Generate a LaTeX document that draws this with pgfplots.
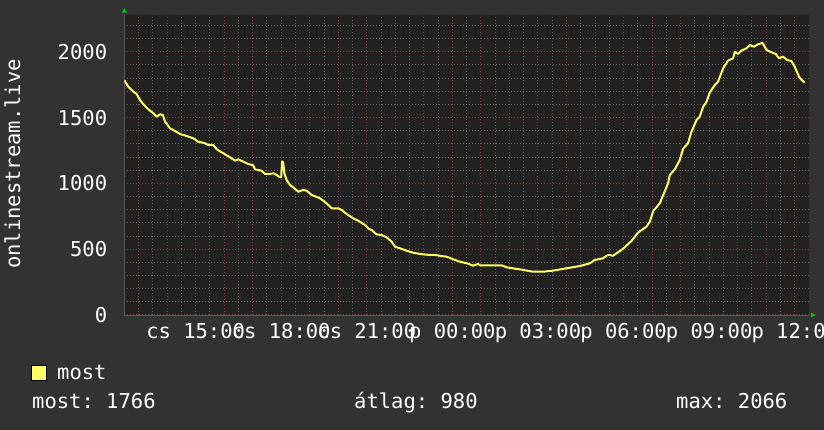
\documentclass[border=0pt]{standalone}
\usepackage{fontspec}
\setmainfont{DejaVu Sans Mono}
\usepackage{pgfplots}
\pgfplotsset{compat=1.18}
\frenchspacing

\definecolor{outerbg}{RGB}{50,50,50}
\definecolor{plotbg}{RGB}{33,33,33}
\definecolor{gridminor}{RGB}{95,95,95}
\definecolor{gridmajor}{RGB}{128,60,60}
\definecolor{linecol}{RGB}{255,255,102}
\definecolor{arrowcol}{RGB}{0,204,0}

\newcommand\fs{\fontsize{20.5}{24}\selectfont}

\begin{document}
\begin{tikzpicture}[x=1pt,y=1pt]
\path[use as bounding box] (0,0) rectangle (824,430);
\fill[outerbg] (0,0) rectangle (824,430);
\begin{axis}[
  at={(124.3pt,115pt)}, anchor=south west,
  scale only axis, width=684.7pt, height=300pt,
  xmin=12.5, xmax=36.5, ymin=0, ymax=2280,
  axis background/.style={fill=plotbg},
  axis x line*=bottom, axis y line*=left,
  axis line style={draw=gray!70!black, line width=0.8pt, -},
  xtick={13,...,36},
  minor xtick={13.5,14.5,...,35.5},
  xticklabels={{},{},cs 15:00,{},{},cs 18:00,{},{},cs 21:00,{},{},p 00:00,{},{},p 03:00,{},{},p 06:00,{},{},p 09:00,{},{},p 12:00},
  ytick={0,500,1000,1500,2000},
  yticklabels={0,500,1000,1500,2000},
  minor ytick={100,200,300,400,600,700,800,900,1100,1200,1300,1400,1600,1700,1800,1900,2100,2200},
  grid=both,
  major grid style={gridmajor, line width=1pt, dash pattern=on 1pt off 2pt},
  minor grid style={gridminor, line width=1pt, dash pattern=on 1pt off 2pt},
  major tick length=0pt, minor tick length=0pt,
  tick label style={font=\fs, text=white, inner sep=0pt},
  x tick label style={anchor=base, yshift=-24pt},
  y tick label style={anchor=east, xshift=-17pt},
]
% most (nézők száma)
\addplot[linecol, line width=2pt, line join=round] coordinates {
(12.50,1785) (12.64,1735) (12.82,1697) (12.93,1680) (13.05,1634) (13.17,1601)
(13.34,1563) (13.52,1533) (13.64,1507) (13.75,1525) (13.85,1520) (13.93,1469)
(14.10,1419) (14.28,1398) (14.45,1376) (14.69,1360) (14.92,1343) (15.09,1317)
(15.33,1305) (15.44,1292) (15.62,1292) (15.74,1259) (15.97,1229) (16.20,1199)
(16.38,1173) (16.49,1183) (16.67,1165) (16.84,1148) (17.02,1138) (17.08,1107)
(17.31,1097) (17.43,1072) (17.61,1072) (17.72,1077) (17.84,1064) (17.96,1046)
(18.00,1051) (18.03,1168) (18.07,1160) (18.11,1077) (18.19,1026) (18.31,988)
(18.42,970) (18.60,937) (18.77,950) (18.89,945) (19.07,912) (19.36,887)
(19.59,849) (19.77,811) (20.00,811) (20.12,798) (20.29,768) (20.52,735)
(20.76,709) (20.93,684) (21.08,654) (21.17,646) (21.34,613) (21.52,608)
(21.69,591) (21.87,557) (21.99,519) (22.16,507) (22.39,489) (22.63,473)
(22.86,464) (23.10,458) (23.39,456) (23.62,448) (23.80,443) (24.03,423)
(24.26,405) (24.50,393) (24.73,375) (24.90,388) (24.96,378) (25.31,378)
(25.72,378) (25.90,362) (26.36,347) (26.83,329) (27.18,329) (27.53,337)
(28.00,355) (28.47,372) (28.82,393) (28.99,418) (29.28,431) (29.46,458)
(29.63,450) (29.98,503) (30.28,563) (30.51,627) (30.80,671) (30.92,709)
(31.04,790) (31.27,849) (31.39,912) (31.56,1001) (31.62,1064) (31.80,1108)
(31.97,1178) (32.09,1265) (32.26,1305) (32.38,1393) (32.56,1482) (32.67,1507)
(32.79,1583) (32.91,1621) (33.02,1690) (33.20,1748) (33.31,1773) (33.49,1875)
(33.66,1933) (33.84,1951) (33.90,2001) (34.01,1984) (34.13,2009) (34.31,2027)
(34.42,2052) (34.57,2039) (34.71,2057) (34.87,2068) (35.01,2014) (35.18,1997)
(35.33,1984) (35.45,1951) (35.59,1963) (35.73,1938) (35.88,1930) (36.00,1887)
(36.15,1811) (36.24,1786) (36.35,1766)
};
\end{axis}
% nyilak
\fill[arrowcol] (121.6,417.3) -- (127,417.3) -- (124.3,421.6) -- cycle;
\fill[arrowcol] (811,112.7) -- (811,117.3) -- (815.5,115) -- cycle;
% tengelyfelirat
\node[rotate=90, text=white, font=\fs, inner sep=0pt] at (12.5,266) {onlinestream.live};
% jelmagyarázat
\fill[linecol, draw=black, line width=1pt] (31.5,49.5) rectangle (46,64);
\node[anchor=base west, inner sep=0pt, text=white, font=\fs] at (57,50) {most};
\node[anchor=base west, inner sep=0pt, text=white, font=\fs] at (32,21.7) {most: 1766};
\node[anchor=base west, inner sep=0pt, text=white, font=\fs] at (354,21.7) {átlag: 980};
\node[anchor=base west, inner sep=0pt, text=white, font=\fs] at (676,21.7) {max: 2066};
\end{tikzpicture}
\end{document}
